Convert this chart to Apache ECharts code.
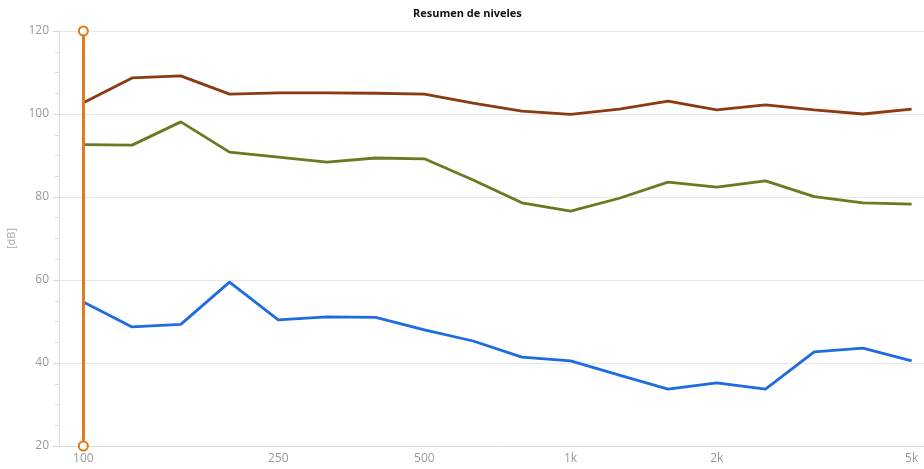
<!DOCTYPE html>
<html>
<head>
<meta charset="utf-8">
<script src="https://cdn.jsdelivr.net/npm/echarts@6/dist/echarts.min.js"></script>
<style>
html, body { margin: 0; padding: 0; background: #fff; overflow: hidden; }
/* the plot area runs past the right edge of the window, as in the original */
#chart { width: 936px; height: 469px; }
</style>
</head>
<body>
<div id="chart"></div>
<script>
// bandas de tercio de octava
const bands = ['100', '125', '160', '200', '250', '315', '400', '500', '630', '800',
	'1k', '1.25k', '1.6k', '2k', '2.5k', '3.15k', '4k', '5k']
const shownLabels = ['100', '250', '500', '1k', '2k', '5k']
const yTicks = [20, 40, 60, 80, 100, 120]

const levelTop = [102.7, 108.7, 109.2, 104.8, 105.1, 105.1, 105.0, 104.8, 102.6, 100.7,
	99.9, 101.2, 103.1, 101.0, 102.2, 101.0, 100.0, 101.2]
const levelMid = [92.6, 92.5, 98.1, 90.8, 89.6, 88.4, 89.4, 89.2, 84.1, 78.6,
	76.6, 79.7, 83.6, 82.4, 83.9, 80.1, 78.6, 78.3]
const levelLow = [54.7, 48.7, 49.3, 59.5, 50.4, 51.1, 51.0, 48.0, 45.3, 41.4,
	40.5, 37.1, 33.7, 35.2, 33.7, 42.7, 43.6, 40.5]
const markerBand = '100'

const chart = echarts.init(document.getElementById('chart'))

const showBand = (idx) => shownLabels.indexOf(bands[idx]) >= 0

chart.setOption({
	animation: false,
	title: {
		text: 'Resumen de niveles',
		left: 408,
		top: 3,
		textStyle: {
			fontFamily: 'Open Sans',
			fontSize: 11,
			fontWeight: 'bold',
			color: '#111'
		}
	},
	grid: {
		left: 59,
		top: 31,
		bottom: 23,
		right: 0,
		outerBoundsMode: 'none'
	},
	xAxis: {
		type: 'category',
		data: bands,
		boundaryGap: true,
		axisLine: { lineStyle: { color: '#d9d9d9' } },
		axisTick: {
			alignWithLabel: true,
			interval: (idx) => showBand(idx),
			lineStyle: { color: '#d9d9d9' },
			length: 5
		},
		axisLabel: {
			interval: (idx) => showBand(idx),
			color: '#999',
			fontFamily: 'Open Sans',
			fontSize: 12,
			margin: 7
		},
		splitLine: { show: false }
	},
	yAxis: {
		type: 'value',
		min: yTicks[0],
		max: yTicks[yTicks.length - 1],
		interval: 20,
		name: '[dB]',
		nameLocation: 'middle',
		nameGap: 33,
		nameTextStyle: { color: '#aaa', fontFamily: 'Open Sans', fontSize: 11 },
		axisLine: { show: true, lineStyle: { color: '#d9d9d9' } },
		axisTick: { show: true, length: 6, lineStyle: { color: '#d9d9d9' } },
		minorTick: { show: true, splitNumber: 4, length: 4, lineStyle: { color: '#d9d9d9' } },
		axisLabel: { color: '#999', fontFamily: 'Open Sans', fontSize: 12, margin: 10 },
		splitLine: { lineStyle: { color: '#e6e6e6' } }
	},
	series: [
		{
			name: 'Nivel alto',
			type: 'line',
			data: levelTop,
			symbol: 'none',
			lineStyle: { color: '#8b3a12', width: 2.8 },
			itemStyle: { color: '#8b3a12' },
			z: 3
		},
		{
			name: 'Nivel medio',
			type: 'line',
			data: levelMid,
			symbol: 'none',
			lineStyle: { color: '#6b7a20', width: 2.8 },
			itemStyle: { color: '#6b7a20' },
			z: 3
		},
		{
			name: 'Nivel bajo',
			type: 'line',
			data: levelLow,
			symbol: 'none',
			lineStyle: { color: '#1f6be0', width: 2.8 },
			itemStyle: { color: '#1f6be0' },
			z: 3,
			markLine: {
				silent: true,
				symbol: ['emptyCircle', 'emptyCircle'],
				symbolSize: 9,
				label: { show: false },
				lineStyle: { color: '#e07b20', width: 3, type: 'solid' },
				itemStyle: { color: '#e07b20', borderWidth: 2.5 },
				data: [{ xAxis: markerBand }]
			}
		}
	]
})
</script>
</body>
</html>
